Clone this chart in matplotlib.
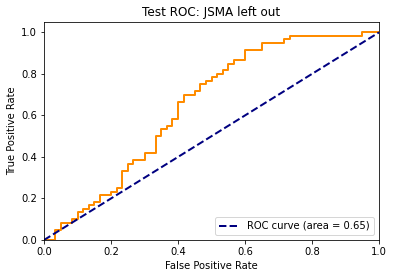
import matplotlib
matplotlib.use("Agg")
import matplotlib.pyplot as plt

# ROC curve corner points
fpr = [0.0, 0.033, 0.033, 0.05, 0.05, 0.083, 0.083, 0.1, 0.1, 0.117, 0.117,
       0.133, 0.133, 0.15, 0.15, 0.167, 0.167, 0.2, 0.2, 0.217, 0.217,
       0.233, 0.233, 0.25, 0.25, 0.267, 0.267, 0.3, 0.3, 0.333, 0.333,
       0.35, 0.35, 0.367, 0.367, 0.383, 0.383, 0.4, 0.4, 0.417, 0.417,
       0.45, 0.45, 0.467, 0.467, 0.483, 0.483, 0.5, 0.5, 0.517, 0.517,
       0.533, 0.533, 0.55, 0.55, 0.567, 0.567, 0.6, 0.6, 0.65, 0.65,
       0.717, 0.717, 0.733, 0.733, 0.95, 0.95, 1.0]
tpr = [0.0, 0.0, 0.05, 0.05, 0.083, 0.083, 0.1, 0.1, 0.133, 0.133, 0.15,
       0.15, 0.167, 0.167, 0.183, 0.183, 0.217, 0.217, 0.233, 0.233, 0.25,
       0.25, 0.333, 0.333, 0.367, 0.367, 0.383, 0.383, 0.417, 0.417, 0.5,
       0.5, 0.533, 0.533, 0.55, 0.55, 0.583, 0.583, 0.667, 0.667, 0.7,
       0.7, 0.717, 0.717, 0.75, 0.75, 0.767, 0.767, 0.783, 0.783, 0.8,
       0.8, 0.817, 0.817, 0.85, 0.85, 0.867, 0.867, 0.917, 0.917, 0.95,
       0.95, 0.967, 0.967, 0.983, 0.983, 1.0, 1.0]
diag = [0, 1]
roc_auc = 0.65

fig = plt.figure(figsize=(394 / 72, 278 / 72), dpi=72)
ax = fig.add_axes([44 / 394, (278 - 240) / 278, 335 / 394, 218 / 278])

ax.plot(fpr, tpr, color='darkorange', lw=2)
ax.plot(diag, diag, color='navy', lw=2, linestyle='--',
        label='ROC curve (area = %0.2f)' % roc_auc)
ax.set_xlim([0.0, 1.0])
ax.set_ylim([0.0, 1.05])
ax.set_xlabel('False Positive Rate')
ax.set_ylabel('True Positive Rate')
ax.set_title('Test ROC: JSMA left out')
ax.legend(loc="lower right")

fig.savefig('out.png', dpi=72)
